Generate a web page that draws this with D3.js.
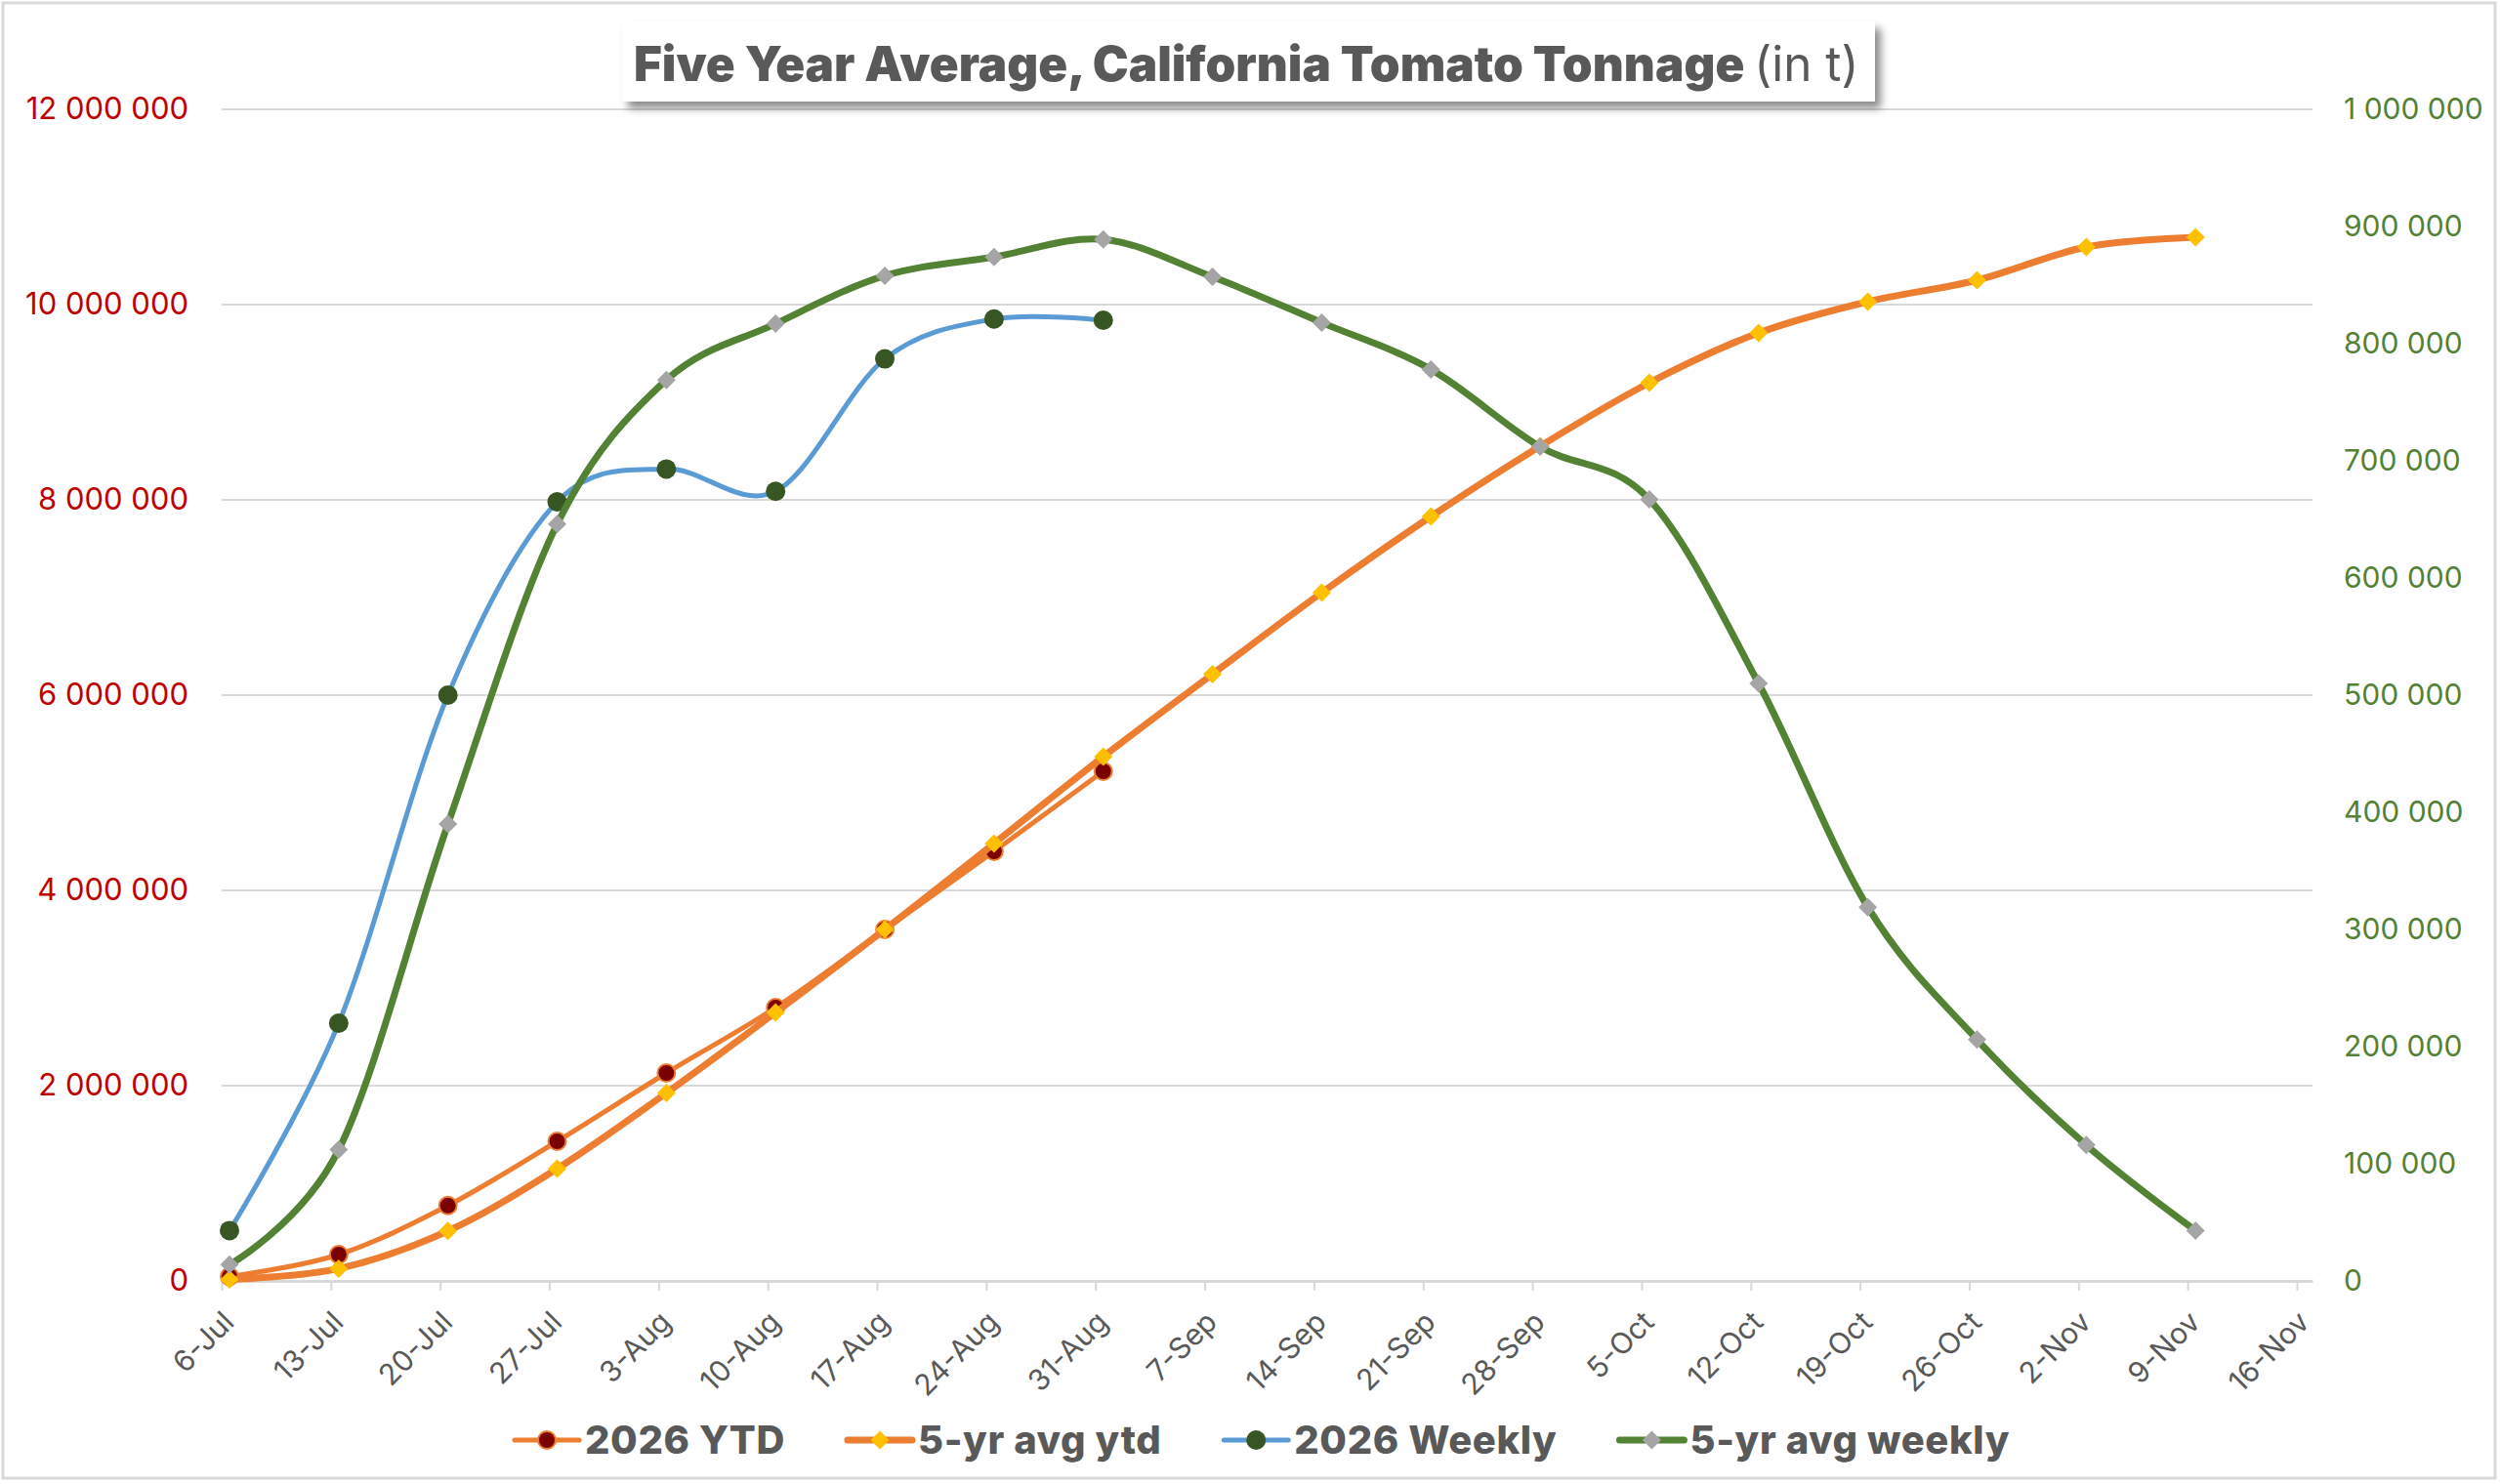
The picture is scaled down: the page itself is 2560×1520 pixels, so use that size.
<!DOCTYPE html>
<html>
<head>
<meta charset="utf-8">
<script src="https://cdn.jsdelivr.net/npm/d3@7"></script>
<style>
  html, body { margin: 0; padding: 0; background: #fff; }
  svg { display: block; font-family: Inter, "Noto Sans", sans-serif; }
</style>
</head>
<body>
<svg id="chart" width="2560" height="1520"></svg>
<script>
// weekly category dates (2026 season)
var weeks = ["2026-07-06","2026-07-13","2026-07-20","2026-07-27","2026-08-03","2026-08-10",
             "2026-08-17","2026-08-24","2026-08-31","2026-09-07","2026-09-14","2026-09-21",
             "2026-09-28","2026-10-05","2026-10-12","2026-10-19","2026-10-26","2026-11-02","2026-11-09"];

// cumulative tonnage (left axis)
var ytd2026 = [45000, 270000, 772000, 1430000, 2130000, 2800000, 3600000, 4400000, 5220000];
var avgYtd = [14000, 126000, 512000, 1150000, 1925000, 2750000, 3600000, 4480000, 5370000,
              6215000, 7050000, 7830000, 8550000, 9200000, 9710000, 10030000, 10250000, 10590000, 10690000];

// weekly tonnage (right axis)
var weekly2026 = [43000, 220000, 500000, 665000, 693000, 674000, 787000, 821000, 820000];
var avgWeekly = [14000, 112000, 390000, 646000, 769000, 817000, 858000, 874000, 889000,
                 857000, 818000, 778000, 712000, 667000, 510000, 319000, 206000, 116000, 43000];

var leftTicks = [0, 2000000, 4000000, 6000000, 8000000, 10000000, 12000000];
var rightTicks = [0, 100000, 200000, 300000, 400000, 500000, 600000, 700000, 800000, 900000, 1000000];
var xTickDates = ["2026-07-06","2026-07-13","2026-07-20","2026-07-27","2026-08-03","2026-08-10",
                  "2026-08-17","2026-08-24","2026-08-31","2026-09-07","2026-09-14","2026-09-21",
                  "2026-09-28","2026-10-05","2026-10-12","2026-10-19","2026-10-26","2026-11-02",
                  "2026-11-09","2026-11-16"];

var parse = d3.timeParse("%Y-%m-%d");
var svg = d3.select("#chart");
var font = "Inter, 'Noto Sans', sans-serif";

var plotLeft = 227, plotRight = 2368, plotTop = 112, plotBottom = 1312;

// date axis: each date owns one day-wide slot, points sit in slot middle
var x = d3.scaleTime().domain([parse("2026-07-06"), parse("2026-11-17")]).range([plotLeft, plotRight]);
var yL = d3.scaleLinear().domain([0, 12000000]).range([plotBottom, plotTop]);
var yR = d3.scaleLinear().domain([0, 1000000]).range([plotBottom, plotTop]);

var px = function(i) { return x(d3.timeHour.offset(parse(weeks[i]), 12)); };

var fmt = d3.formatLocale({decimal: ".", thousands: " ", grouping: [3], currency: ["", ""]}).format(",");

// outer border
svg.append("rect").attr("x", 3).attr("y", 3).attr("width", 2552).attr("height", 1511)
  .attr("fill", "#fff").attr("stroke", "#d9d9d9").attr("stroke-width", 3);

// gridlines
svg.append("g").selectAll("line").data(leftTicks.slice(1)).enter().append("line")
  .attr("x1", plotLeft).attr("x2", plotRight)
  .attr("y1", function(d) { return yL(d); }).attr("y2", function(d) { return yL(d); })
  .attr("stroke", "#d9d9d9").attr("stroke-width", 2);

// left axis
var gl = svg.append("g").attr("transform", "translate(" + plotLeft + ",0)")
  .call(d3.axisLeft(yL).tickValues(leftTicks).tickSize(0).tickPadding(34).tickFormat(fmt));
gl.select(".domain").remove();
gl.selectAll("text").attr("fill", "#C00000").style("font-size", "31px").style("font-family", font);

// right axis
var gr = svg.append("g").attr("transform", "translate(" + plotRight + ",0)")
  .call(d3.axisRight(yR).tickValues(rightTicks).tickSize(0).tickPadding(32).tickFormat(fmt));
gr.select(".domain").remove();
gr.selectAll("text").attr("fill", "#538135").style("font-size", "30px").style("font-family", font);

// bottom axis
var gx = svg.append("g").attr("transform", "translate(0," + plotBottom + ")")
  .call(d3.axisBottom(x).tickValues(xTickDates.map(parse)).tickSize(10).tickSizeOuter(0)
    .tickFormat(d3.timeFormat("%-d-%b")));
gx.select(".domain").attr("stroke", "#d9d9d9").attr("stroke-width", 3);
gx.selectAll(".tick line").attr("stroke", "#d9d9d9").attr("stroke-width", 2);
gx.selectAll(".tick text")
  .attr("y", 0).attr("dy", 0).attr("text-anchor", "end")
  .attr("transform", "translate(14,44) rotate(-45)")
  .attr("fill", "#595959").style("font-size", "30px").style("font-family", font);

// series
var series = [
  {name: "2026 YTD", values: ytd2026, y: yL, color: "#ED7D31", width: 5, marker: "circle", fill: "#7B0000", stroke: "#ED7D31", size: 9},
  {name: "5-yr avg ytd", values: avgYtd, y: yL, color: "#ED7D31", width: 7, marker: "diamond", fill: "#FFC000", stroke: "none", size: 9.5},
  {name: "2026 Weekly", values: weekly2026, y: yR, color: "#5B9BD5", width: 5, marker: "circle", fill: "#375623", stroke: "none", size: 10},
  {name: "5-yr avg weekly", values: avgWeekly, y: yR, color: "#548235", width: 7, marker: "diamond", fill: "#A5A5A5", stroke: "none", size: 9.5}
];

function drawMarker(sel, s, cx, cy) {
  if (s.marker === "circle") {
    sel.append("circle").attr("cx", cx).attr("cy", cy).attr("r", s.size)
      .attr("fill", s.fill).attr("stroke", s.stroke).attr("stroke-width", 2);
  } else {
    var r = s.size;
    sel.append("path")
      .attr("d", "M" + cx + "," + (cy - r) + "L" + (cx + r) + "," + cy + "L" + cx + "," + (cy + r) + "L" + (cx - r) + "," + cy + "Z")
      .attr("fill", s.fill);
  }
}

series.forEach(function(s) {
  var line = d3.line()
    .x(function(d, i) { return px(i); })
    .y(function(d) { return s.y(d); })
    .curve(d3.curveCardinal.tension(0));
  var g = svg.append("g");
  g.append("path").datum(s.values).attr("d", line)
    .attr("fill", "none").attr("stroke", s.color).attr("stroke-width", s.width)
    .attr("stroke-linecap", "round").attr("stroke-linejoin", "round");
  s.values.forEach(function(v, i) { drawMarker(g, s, px(i), s.y(v)); });
});

// legend
var lg = svg.append("g");
var lx = 527, ly = 1475;
series.forEach(function(s) {
  lg.append("line").attr("x1", lx).attr("x2", lx + 66).attr("y1", ly).attr("y2", ly)
    .attr("stroke", s.color).attr("stroke-width", s.width).attr("stroke-linecap", "round");
  drawMarker(lg, s, lx + 33, ly);
  var t = lg.append("text").attr("x", lx + 72).attr("y", ly + 14)
    .attr("fill", "#595959").style("font-size", "40px").style("font-weight", 800)
    .style("letter-spacing", "0.6px").style("font-family", font).text(s.name);
  lx = lx + 72 + t.node().getComputedTextLength() + 64;
});

// title box with shadow
var defs = svg.append("defs");
var f = defs.append("filter").attr("id", "shadow").attr("x", "-10%").attr("y", "-30%").attr("width", "120%").attr("height", "170%");
f.append("feDropShadow").attr("dx", 6).attr("dy", 7).attr("stdDeviation", 4)
  .attr("flood-color", "#000").attr("flood-opacity", 0.45);

svg.append("rect").attr("x", 637).attr("y", 22).attr("width", 1283).attr("height", 82)
  .attr("fill", "#fff").attr("filter", "url(#shadow)");

var title = svg.append("text").attr("x", 649).attr("y", 83)
  .attr("fill", "#595959").style("font-size", "46px").style("font-family", font);
title.append("tspan").style("font-weight", 900).text("Five Year Average, California Tomato Tonnage ");
title.append("tspan").style("font-weight", 400).text("(in t)");
var tw = title.node().getComputedTextLength();
title.style("font-size", (46 * 1255 / tw) + "px");
</script>
</body>
</html>
